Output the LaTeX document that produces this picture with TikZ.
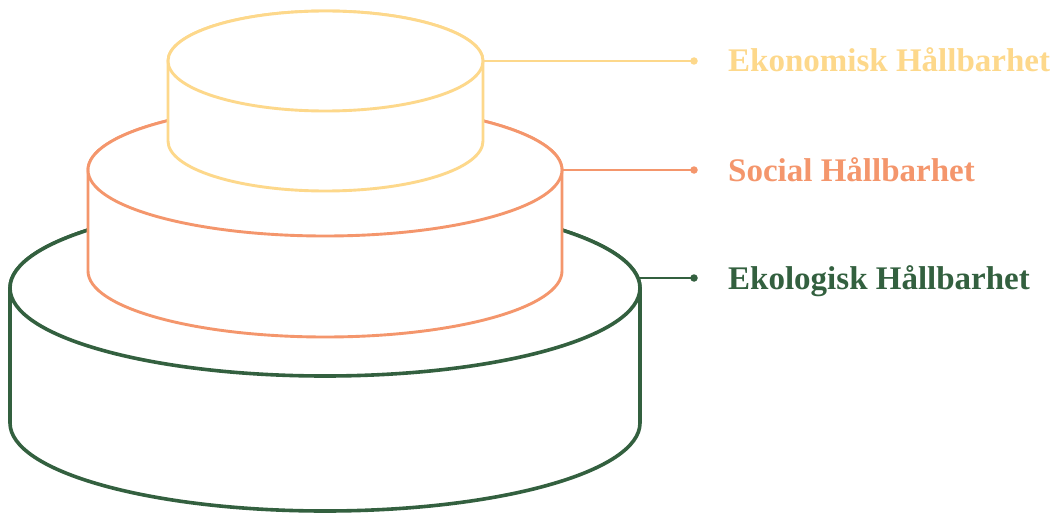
\documentclass[tikz,border=0pt]{standalone}
\usepackage{fontspec}
\setmainfont{Liberation Serif}
\definecolor{ecoYellow}{HTML}{FDD88B}
\definecolor{socOrange}{HTML}{F4966C}
\definecolor{ekoGreen}{HTML}{33603F}

% one tier of the cake: white body, outlined, with its full top ellipse
\newcommand{\tier}[6]{%
  % #1 centre x, #2 top y, #3 bottom y, #4 x radius, #5 y radius, #6 style
  \filldraw[#6] ({#1-#4},#2) -- ({#1-#4},#3)
    arc[start angle=180, end angle=0, x radius=#4, y radius=#5]
    -- ({#1+#4},#2)
    arc[start angle=0, end angle=-180, x radius=#4, y radius=#5] -- cycle;
  \draw[#6] (#1,#2) ellipse[x radius=#4, y radius=#5];
}

\begin{document}
\begin{tikzpicture}[x=1pt, y=-1pt,
  tierline/.style={fill=white, line width=2.9pt},
  leader/.style={line width=2.7pt},
  tipdot/.style={circle, fill, inner sep=0pt, minimum size=7.5pt},
  tierlabel/.style={anchor=base west, inner sep=0pt,
    font=\fontsize{33}{33}\selectfont\bfseries}]
\useasboundingbox (0,0) rectangle (1060,516);

% tiers, bottom to top
\tier{325}{288}{423}{315}{88}{tierline, draw=ekoGreen, line width=3.6pt}
\tier{325}{170}{271}{237}{66}{tierline, draw=socOrange}
\tier{325.5}{61}{141}{157.5}{50}{tierline, draw=ecoYellow}

% attachment points on the tiers
\coordinate (ekoEdge) at (638,278);
\coordinate (socEdge) at (562,170);
\coordinate (ecoEdge) at (483,61);

% end dots and labels
\node[tipdot, fill=ecoYellow] (ecoDot) at (694,61) {};
\node[tipdot, fill=socOrange] (socDot) at (694,170) {};
\node[tipdot, fill=ekoGreen] (ekoDot) at (694,278) {};

\node[tierlabel, text=ecoYellow] (ecoText) at (728,72) {Ekonomisk Hållbarhet};
\node[tierlabel, text=socOrange] (socText) at (728,181) {Social Hållbarhet};
\node[tierlabel, text=ekoGreen] (ekoText) at (728,289) {Ekologisk Hållbarhet};

% leaders
\draw[leader, ecoYellow] (ecoEdge) -- (ecoDot.center);
\draw[leader, socOrange] (socEdge) -- (socDot.center);
\draw[leader, ekoGreen] (ekoEdge) -- (ekoDot.center);
\end{tikzpicture}
\end{document}
